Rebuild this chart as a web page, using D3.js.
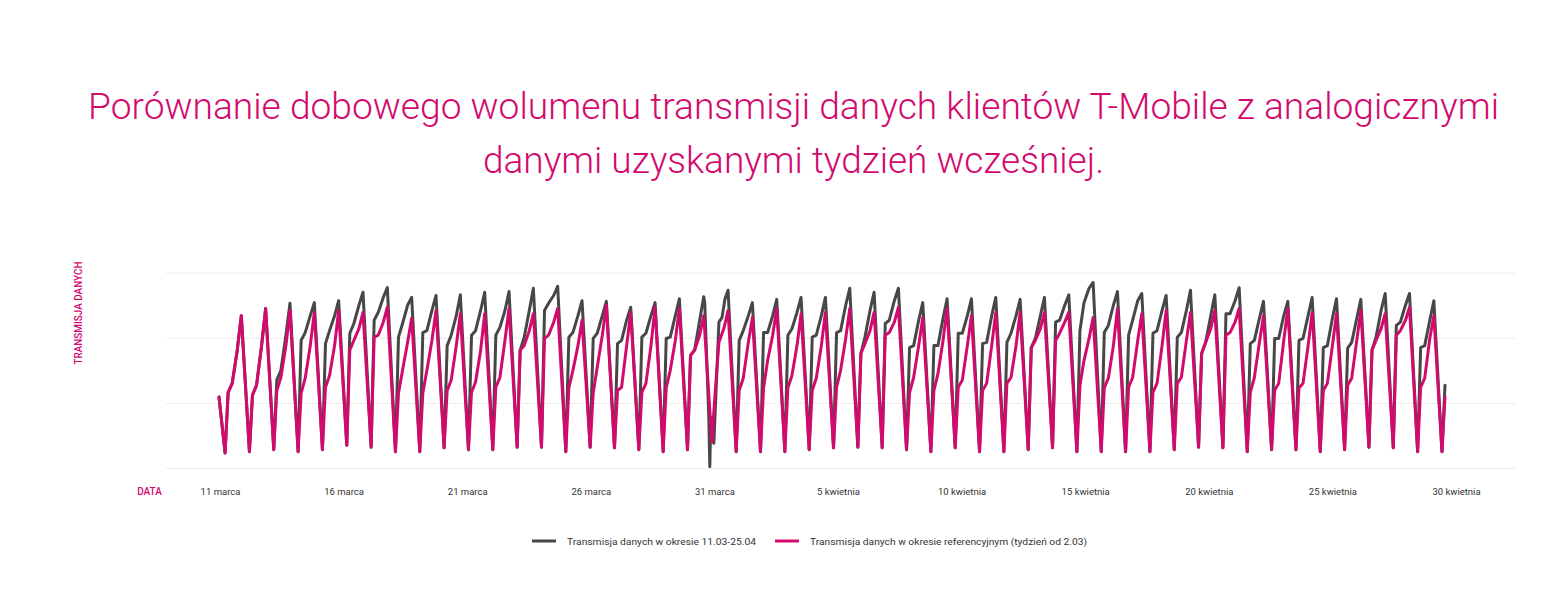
<!DOCTYPE html>
<html lang="pl">
<head>
<meta charset="utf-8">
<script src="https://cdn.jsdelivr.net/npm/d3@7"></script>
<style>
  html, body { margin: 0; padding: 0; background: #fff; }
  svg { display: block; font-family: Roboto, "Noto Sans", sans-serif; }
</style>
</head>
<body>
<svg id="chart" width="1560" height="596"></svg>
<script>
// --- dane ---
const tickLabels = ['11 marca', '16 marca', '21 marca', '26 marca', '31 marca',
  '5 kwietnia', '10 kwietnia', '15 kwietnia', '20 kwietnia', '25 kwietnia', '30 kwietnia'];

const legendLabels = [
  'Transmisja danych w okresie 11.03-25.04',
  'Transmisja danych w okresie referencyjnym (tydzień od 2.03)'
];

// godziny próbek w każdej dobie: minimum nocne, rano, południe, wieczór, szczyt
const sampleHours = [6, 9, 13, 18, 22];
const startValue = 109; // 11 marca, północ

// kolejne doby od 11 marca (indeks 0) do 30 kwietnia (indeks 50)
const grayDaily = [
  [23,116,130,181,234], [25,112,127,188,245], [28,135,150,204,253], [25,196,208,234,254],
  [28,191,211,234,257], [35,207,222,250,270], [32,227,239,262,277], [25,201,222,250,262],
  [25,208,211,242,265], [31,188,204,234,266], [28,204,211,242,270], [28,204,216,242,271],
  [32,181,201,242,276], [32,242,253,265,279], [25,201,208,234,257], [32,199,207,234,256],
  [31,191,196,227,247], [28,201,207,234,254], [25,199,201,234,260], [28,173,181,227,263],
  [2,38,224,231,273],   [25,196,211,234,254], [25,208,208,234,259], [25,204,214,239,262],
  [28,201,204,234,262], [31,208,211,250,276], [32,176,201,242,270], [31,222,227,257,276],
  [28,185,188,227,254], [25,188,188,230,260], [31,207,207,234,260], [25,191,193,234,262],
  [25,193,207,234,259], [28,185,199,234,262], [31,224,227,250,266], [25,211,254,276,285],
  [25,208,219,250,271], [25,204,227,257,268], [25,207,211,242,265], [28,201,208,242,273],
  [32,176,193,234,266], [31,237,237,257,277], [25,191,196,230,256], [28,199,199,234,256],
  [28,196,199,234,262], [25,185,188,230,260], [28,184,193,230,259], [32,181,201,242,268],
  [31,219,224,250,268], [25,185,188,227,257], [25,127]
];

const pinkDaily = [
  [23,116,130,181,234], [25,112,127,188,245], [28,119,139,188,242], [25,115,138,188,239],
  [28,124,142,188,242], [35,181,196,214,239], [32,201,204,224,247], [25,115,150,193,230],
  [25,115,150,196,242], [31,119,135,188,237], [28,116,132,181,237], [28,124,139,196,245],
  [32,181,188,211,237], [32,199,204,224,245], [25,123,150,188,227], [32,115,155,204,250],
  [31,119,124,188,239], [28,116,130,188,247], [25,123,150,196,245], [28,173,181,204,234],
  [40,110,193,215,242], [25,119,138,193,231], [25,123,165,204,245], [25,123,142,188,237],
  [28,119,138,188,239], [31,124,150,199,245], [32,176,191,211,239], [31,204,208,224,247],
  [28,116,139,188,231], [25,119,145,196,245], [31,124,135,188,234], [25,119,130,188,239],
  [25,130,139,188,239], [28,185,196,214,239], [31,196,207,224,239], [25,127,165,199,231],
  [25,123,138,188,245], [25,124,139,196,237], [25,116,130,188,242], [28,130,139,196,239],
  [32,176,193,214,242], [31,204,208,224,245], [25,116,139,193,234], [28,119,130,196,245],
  [28,123,130,188,239], [25,119,130,188,237], [28,127,138,196,242], [32,181,196,214,237],
  [31,204,211,227,247], [25,124,138,199,234], [25,109]
];

// 31 marca (doba 20): przerwa w danych bieżących, [godzina względem doby, wartość]
const grayGapDay = 20;
const grayGap = [[-1,254], [3,78], [4,2], [5,78], [8,38], [13,224], [16,231], [19,260], [22,273]];

// --- rysowanie ---
const MAGENTA = '#d20a6e';
const GRAY = '#474747';
const HOUR = 3600e3;
const t0 = Date.UTC(2020, 2, 11);
const at = (day, h) => new Date(t0 + (day * 24 + h) * HOUR);

function buildSeries(daily, gap, gapDay) {
  const pts = [{ t: at(0, 0), v: startValue }];
  daily.forEach((vals, day) => {
    if (gap && day === gapDay) {
      gap.forEach(([h, v]) => pts.push({ t: at(day, h), v }));
      return;
    }
    vals.forEach((v, i) => pts.push({ t: at(day, sampleHours[i]), v }));
  });
  return pts;
}

const graySeries = buildSeries(grayDaily, grayGap, grayGapDay);
const pinkSeries = buildSeries(pinkDaily);

const svg = d3.select('#chart');

const x = d3.scaleUtc()
  .domain([at(0, 0), at(pinkDaily.length - 1, 9)])
  .range([219, 1445]);
const y = d3.scaleLinear().domain([0, 300]).range([468, 272.7]);
const xTicks = d3.scalePoint().domain(tickLabels).range([220, 1456]);

// tytuł
const title = svg.append('g').attr('fill', MAGENTA)
  .attr('font-size', 36).attr('font-weight', 300).attr('text-anchor', 'middle');
title.append('text').attr('x', 793.5).attr('y', 119)
  .attr('textLength', 1411).attr('lengthAdjust', 'spacingAndGlyphs')
  .text('Porównanie dobowego wolumenu transmisji danych klientów T-Mobile z analogicznymi');
title.append('text').attr('x', 793.5).attr('y', 173)
  .attr('textLength', 621).attr('lengthAdjust', 'spacingAndGlyphs')
  .text('danymi uzyskanymi tydzień wcześniej.');

// siatka
svg.append('g')
  .attr('transform', 'translate(166,0)')
  .call(d3.axisLeft(y).tickValues([0, 100, 200, 300]).tickSize(-1349).tickFormat(''))
  .call(g => g.select('.domain').remove())
  .call(g => g.selectAll('line').attr('stroke', '#ececec').attr('stroke-width', 1));

// oś X
svg.append('g')
  .attr('transform', 'translate(0,485)')
  .call(d3.axisBottom(xTicks).tickSize(0).tickPadding(3))
  .call(g => g.select('.domain').remove())
  .call(g => g.selectAll('text')
    .attr('font-family', 'Roboto, sans-serif').attr('font-size', 9.5).attr('fill', '#333'));

// podpisy osi
svg.append('text')
  .attr('x', 149.5).attr('y', 495).attr('text-anchor', 'middle')
  .attr('font-size', 10).attr('font-weight', 500).attr('fill', MAGENTA)
  .text('DATA');
svg.append('text')
  .attr('transform', 'translate(82,313) rotate(-90)').attr('text-anchor', 'middle')
  .attr('font-size', 10).attr('font-weight', 500).attr('fill', MAGENTA)
  .attr('textLength', 103).attr('lengthAdjust', 'spacingAndGlyphs')
  .text('TRANSMISJA DANYCH');

// linie (szara pod różową)
const line = d3.line().x(d => x(d.t)).y(d => y(d.v));
[[graySeries, GRAY], [pinkSeries, MAGENTA]].forEach(([data, color]) => {
  svg.append('path').datum(data)
    .attr('d', line).attr('fill', 'none').attr('stroke', color)
    .attr('stroke-width', 3).attr('stroke-linejoin', 'round').attr('stroke-linecap', 'round');
});

// legenda
const legendItems = [
  { label: legendLabels[0], color: GRAY, x: 532, w: 189 },
  { label: legendLabels[1], color: MAGENTA, x: 775, w: 277 }
];
const legend = svg.append('g').attr('transform', 'translate(0,541)');
legendItems.forEach(it => {
  legend.append('line')
    .attr('x1', it.x).attr('x2', it.x + 24).attr('y1', 0).attr('y2', 0)
    .attr('stroke', it.color).attr('stroke-width', 3);
  legend.append('text')
    .attr('x', it.x + 35).attr('y', 3.5)
    .attr('font-size', 9.5).attr('fill', '#333')
    .attr('textLength', it.w).attr('lengthAdjust', 'spacingAndGlyphs')
    .text(it.label);
});
</script>
</body>
</html>
